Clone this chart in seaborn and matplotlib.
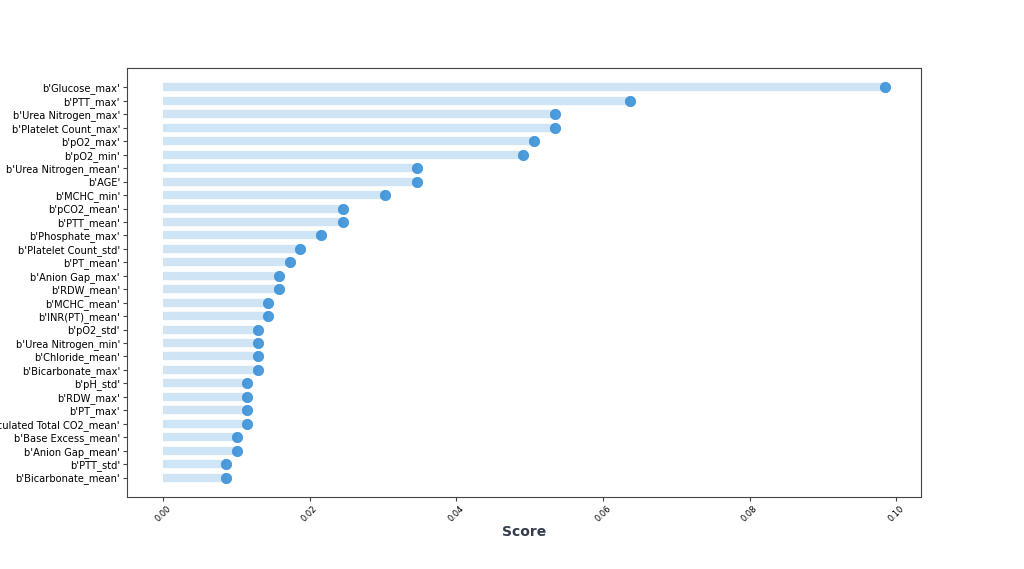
import pandas as pd
import matplotlib
matplotlib.use("Agg")
import matplotlib.pyplot as plt
import seaborn as sns

features = ["b'Glucose_max'", "b'PTT_max'", "b'Urea Nitrogen_max'", "b'Platelet Count_max'",
            "b'pO2_max'", "b'pO2_min'", "b'Urea Nitrogen_mean'", "b'AGE'", "b'MCHC_min'",
            "b'pCO2_mean'", "b'PTT_mean'", "b'Phosphate_max'", "b'Platelet Count_std'",
            "b'PT_mean'", "b'Anion Gap_max'", "b'RDW_mean'", "b'MCHC_mean'", "b'INR(PT)_mean'",
            "b'pO2_std'", "b'Urea Nitrogen_min'", "b'Chloride_mean'", "b'Bicarbonate_max'",
            "b'pH_std'", "b'RDW_max'", "b'PT_max'", "b'Calculated Total CO2_mean'",
            "b'Base Excess_mean'", "b'Anion Gap_mean'", "b'PTT_std'", "b'Bicarbonate_mean'"]
scores = [0.0984, 0.0637, 0.0535, 0.0535, 0.0506, 0.0491, 0.0347, 0.0347, 0.0303,
          0.0246, 0.0246, 0.0216, 0.0187, 0.0173, 0.0158, 0.0158, 0.0143, 0.0143,
          0.0130, 0.0130, 0.0130, 0.0130, 0.0115, 0.0115, 0.0115, 0.0115,
          0.0101, 0.0101, 0.0086, 0.0086]

df = pd.DataFrame({'feature': features, 'score': scores})
df['pos'] = range(len(df))

fig = plt.figure(figsize=(10.24, 5.69), dpi=100)
ax = fig.add_axes([0.124, 0.1265, 0.775, 0.754])

ax.hlines(y=df['pos'], xmin=0, xmax=df['score'], color='#cfe4f4', linewidth=6, zorder=1)
sns.scatterplot(data=df, x='score', y='pos', ax=ax, color='#3a91d8', s=55,
                edgecolor='#3a91d8', alpha=0.9, zorder=2, legend=False)

ax.set_yticks(df['pos'])
ax.set_yticklabels(df['feature'], fontsize=7.1)
ax.invert_yaxis()
ax.set_ylabel('')
ax.set_xticks([0.0, 0.02, 0.04, 0.06, 0.08, 0.10])
ax.set_xticklabels(['0.00', '0.02', '0.04', '0.06', '0.08', '0.10'], rotation=45, fontsize=6)
ax.tick_params(axis='both', length=3, pad=2, color='#444444')
ax.set_xlabel('Score', fontsize=10, fontweight='bold', color='#333d4c', labelpad=1)
for s in ax.spines.values():
    s.set_color('#444444')
    s.set_linewidth(0.8)

fig.savefig('out.png', dpi=100)
